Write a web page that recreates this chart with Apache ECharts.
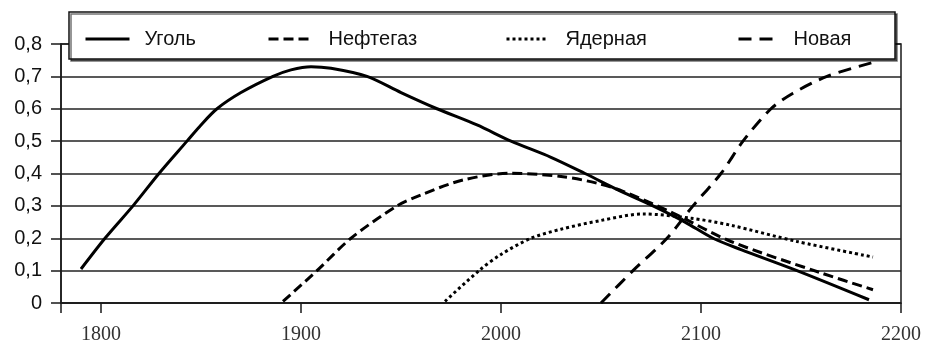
<!DOCTYPE html>
<html>
<head>
<meta charset="utf-8">
<script src="https://cdn.jsdelivr.net/npm/echarts@6/dist/echarts.min.js"></script>
<style>
  html, body { margin: 0; padding: 0; background: #fff; }
  #chart { width: 925px; height: 345px; }
</style>
</head>
<body>
<div id="chart"></div>
<script>
// Share of world primary energy by source (years, share of total)
const coalYears   = [1790, 1802, 1816, 1829, 1843, 1850, 1858, 1870, 1886, 1895, 1905, 1915, 1933, 1950, 1968, 1988, 2005, 2025, 2042, 2060, 2076, 2092, 2106, 2120, 2148, 2184];
const coalShare   = [0.105, 0.2, 0.3, 0.4, 0.5, 0.55, 0.6, 0.65, 0.7, 0.72, 0.73, 0.725, 0.7, 0.65, 0.6, 0.55, 0.5, 0.45, 0.4, 0.345, 0.3, 0.25, 0.2, 0.165, 0.1, 0.01];

const oilYears    = [1891, 1908, 1925, 1948, 1960, 1981, 2005, 2031, 2048, 2061, 2086, 2115, 2160, 2186];
const oilShare    = [0.005, 0.1, 0.2, 0.3, 0.334, 0.38, 0.401, 0.39, 0.37, 0.345, 0.278, 0.19, 0.093, 0.041];

const nuclearYears = [1972, 1989, 2000, 2015, 2030, 2050, 2071, 2095, 2115, 2148, 2186];
const nuclearShare = [0.005, 0.1, 0.15, 0.2, 0.228, 0.255, 0.275, 0.262, 0.24, 0.19, 0.142];

const newYears    = [2050, 2066, 2083, 2096, 2110, 2121, 2135, 2146, 2163, 2186];
const newShare    = [0.0, 0.1, 0.2, 0.3, 0.4, 0.5, 0.6, 0.648, 0.7, 0.743];

const seriesNames = ['Уголь', 'Нефтегаз', 'Ядерная', 'Новая'];
const xTickValues = [1780, 1800, 1900, 2000, 2100, 2200];
const xLabelValues = [1800, 1900, 2000, 2100, 2200];
const yTickLabels = ['0', '0,1', '0,2', '0,3', '0,4', '0,5', '0,6', '0,7', '0,8'];

const pairs = (xs, ys) => xs.map((x, i) => [x, ys[i]]);

const sansFont = "'Liberation Sans', Arial, sans-serif";
const serifFont = "'Liberation Serif', 'DejaVu Serif', serif";

const lineStyles = [
  { color: '#000', width: 3, type: 'solid' },
  { color: '#000', width: 3, type: [10, 5] },
  { color: '#000', width: 3, type: [3, 3] },
  { color: '#000', width: 3, type: [13, 8] }
];
const seriesData = [
  pairs(coalYears, coalShare),
  pairs(oilYears, oilShare),
  pairs(nuclearYears, nuclearShare),
  pairs(newYears, newShare)
];

// one legend per entry so each sits at its own spot in the framed strip
const legendSpots = [
  { left: 84, itemWidth: 44, textGap: 10 },
  { left: 267, itemWidth: 40, textGap: 15 },
  { left: 505, itemWidth: 40, textGap: 14 },
  { left: 737, itemWidth: 35, textGap: 15 }
];

const chart = echarts.init(document.getElementById('chart'), null, { renderer: 'canvas' });

chart.setOption({
  animation: false,
  backgroundColor: '#fff',
  grid: {
    left: 61, right: 24, top: 44, bottom: 42,
    show: true, borderColor: '#1a1a1a', borderWidth: 1.5, backgroundColor: 'transparent'
  },
  graphic: [{
    type: 'rect',
    z: 3,
    shape: { x: 69, y: 12, width: 826, height: 47 },
    style: {
      fill: '#fff', stroke: '#111', lineWidth: 1.5,
      shadowColor: 'rgba(0,0,0,0.55)', shadowOffsetX: 2, shadowOffsetY: 2, shadowBlur: 0
    }
  }],
  legend: seriesNames.map((name, i) => ({
    data: [name],
    left: legendSpots[i].left,
    top: 28,
    padding: 0,
    z: 5,
    itemWidth: legendSpots[i].itemWidth,
    itemHeight: 20,
    itemStyle: { opacity: 0 },
    lineStyle: { width: 3 },
    textStyle: {
      fontFamily: sansFont, fontSize: 20, color: '#111',
      padding: [0, 0, 0, legendSpots[i].textGap], lineHeight: 22
    },
    selectedMode: false
  })),
  xAxis: {
    type: 'value',
    min: 1780, max: 2200,
    axisLine: { show: true, lineStyle: { color: '#1a1a1a', width: 1.5 } },
    axisTick: {
      show: true, length: 10, inside: false,
      customValues: xTickValues,
      lineStyle: { color: '#1a1a1a', width: 1.5 }
    },
    axisLabel: {
      customValues: xLabelValues,
      margin: 22,
      fontFamily: serifFont, fontSize: 20, color: '#333',
      formatter: v => String(v)
    },
    splitLine: { show: false }
  },
  yAxis: {
    type: 'value',
    min: 0, max: 0.8, interval: 0.1,
    axisLine: { show: true, lineStyle: { color: '#1a1a1a', width: 1.5 } },
    axisTick: { show: true, length: 10, lineStyle: { color: '#1a1a1a', width: 1.5 } },
    axisLabel: {
      margin: 19,
      fontFamily: sansFont, fontSize: 20, color: '#111',
      formatter: v => yTickLabels[Math.round(v * 10)]
    },
    splitLine: { show: true, lineStyle: { color: '#222', width: 1.5 } }
  },
  series: seriesNames.map((name, i) => ({
    name: name,
    type: 'line',
    data: seriesData[i],
    showSymbol: false,
    symbol: 'none',
    smooth: 0.3,
    lineStyle: lineStyles[i],
    itemStyle: { color: '#000' },
    z: 2
  }))
});
</script>
</body>
</html>
